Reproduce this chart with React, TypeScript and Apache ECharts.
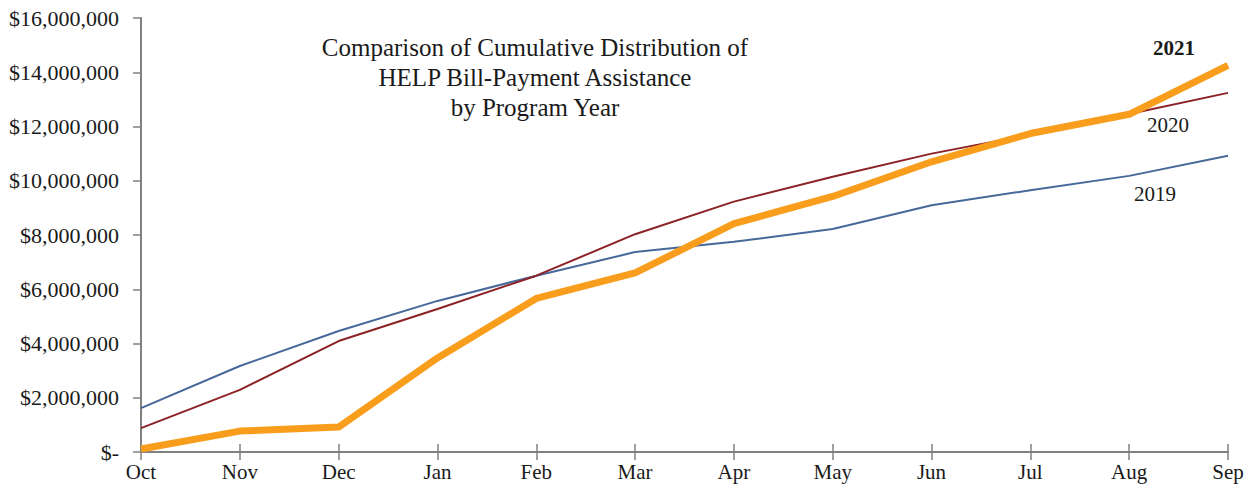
import React, { useEffect, useRef } from "react";
import * as echarts from "echarts";

const months = ["Oct", "Nov", "Dec", "Jan", "Feb", "Mar", "Apr", "May", "Jun", "Jul", "Aug", "Sep"];
const y2019 = [1620000, 3170000, 4460000, 5570000, 6500000, 7370000, 7750000, 8220000, 9100000, 9650000, 10180000, 10920000];
const y2020 = [880000, 2290000, 4090000, 5270000, 6500000, 8030000, 9230000, 10150000, 11000000, 11700000, 12460000, 13240000];
const y2021 = [110000, 770000, 920000, 3470000, 5660000, 6600000, 8420000, 9420000, 10700000, 11740000, 12450000, 14250000];
const titleLines = ["Comparison of Cumulative Distribution of", "HELP Bill-Payment Assistance", "by Program Year"];

const FONT = "'Liberation Serif', 'Times New Roman', serif";

function fmt(v: number): string {
  if (v === 0) return "$-";
  return "$" + v.toLocaleString("en-US");
}

export default function App() {
  const ref = useRef<HTMLDivElement>(null);
  useEffect(() => {
    if (!ref.current) return;
    const chart = echarts.init(ref.current, undefined, { renderer: "svg" });
    const axisColor = "#808080";
    chart.setOption({
      animation: false,
      backgroundColor: "#ffffff",
      textStyle: { fontFamily: FONT },
      title: {
        text: titleLines.join("\n"),
        left: 530,
        top: 27,
        textAlign: "center",
        textStyle: { fontFamily: FONT, fontSize: 25, fontWeight: "normal", color: "#1a1a1a", lineHeight: 30 },
      },
      grid: { left: 141, right: 27, top: 18, bottom: 35, containLabel: false },
      xAxis: [
        {
          type: "category",
          data: months,
          boundaryGap: false,
          axisLine: { lineStyle: { color: axisColor, width: 2 } },
          axisTick: { show: true, length: 8, inside: false, lineStyle: { color: axisColor, width: 1.5 } },
          axisLabel: { fontFamily: FONT, fontSize: 21, color: "#1a1a1a", margin: 9 },
        },
        {
          type: "category",
          data: months,
          boundaryGap: false,
          position: "bottom",
          axisLine: { show: false },
          axisTick: { show: true, length: 8, inside: true, lineStyle: { color: axisColor, width: 1.5 } },
          axisLabel: { show: false },
        },
      ],
      yAxis: {
        type: "value",
        min: 0,
        max: 16000000,
        interval: 2000000,
        splitLine: { show: false },
        axisLine: { show: true, lineStyle: { color: axisColor, width: 2 } },
        axisTick: { show: true, length: 8, lineStyle: { color: axisColor, width: 1.5 } },
        axisLabel: { fontFamily: FONT, fontSize: 22, color: "#1a1a1a", margin: 22, formatter: fmt },
      },
      series: [
        {
          name: "2019",
          type: "line",
          data: y2019,
          symbol: "none",
          lineStyle: { color: "#46699a", width: 2 },
          z: 2,
        },
        {
          name: "2020",
          type: "line",
          data: y2020,
          symbol: "none",
          lineStyle: { color: "#8c2226", width: 2 },
          z: 2,
        },
        {
          name: "2021",
          type: "line",
          data: y2021,
          symbol: "none",
          lineStyle: { color: "#f99d1c", width: 7, join: "round" },
          z: 3,
        },
      ],
      graphic: [
        { type: "text", x: 1174, y: 48, style: { text: "2021", font: `bold 21px ${FONT}`, fill: "#1a1a1a", textAlign: "center", textVerticalAlign: "middle" } },
        { type: "text", x: 1168, y: 125, style: { text: "2020", font: `21px ${FONT}`, fill: "#1a1a1a", textAlign: "center", textVerticalAlign: "middle" } },
        { type: "text", x: 1155, y: 194, style: { text: "2019", font: `21px ${FONT}`, fill: "#1a1a1a", textAlign: "center", textVerticalAlign: "middle" } },
      ],
    });
    return () => chart.dispose();
  }, []);
  return <div ref={ref} style={{ position: "absolute", left: 0, top: 0, width: 1255, height: 487 }} />;
}
